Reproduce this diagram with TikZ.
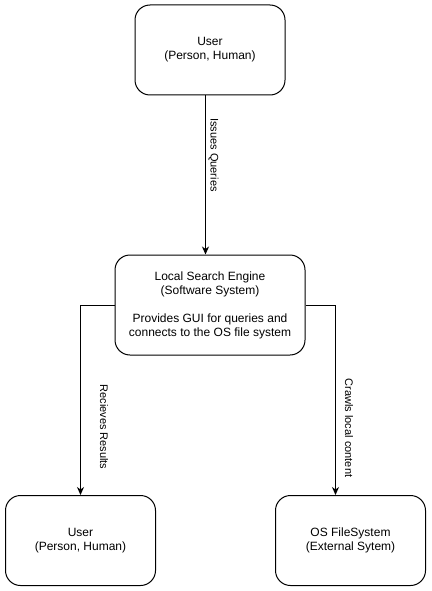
\documentclass[tikz,border=0pt]{standalone}
\usepackage{fontspec}
\setmainfont{Liberation Sans}
\usetikzlibrary{arrows.meta}
\begin{document}
\begin{tikzpicture}[x=1pt,y=-1pt,
  box/.style={draw=black, line width=1pt, rounded corners=15pt, minimum width=150pt, minimum height=90pt, align=center, font=\fontsize{12}{14}\selectfont, inner sep=0pt},
  conn/.style={draw=black, line width=1pt, -{Stealth[length=8pt,width=7pt,inset=2.5pt]}},
  lbl/.style={font=\fontsize{11}{13}\selectfont, rotate=-90, inner sep=0pt}]
\useasboundingbox[fill=white] (0,0) rectangle (431,591);
\node[box] (user1) at (210,50) {User\\(Person, Human)};
\node[box, minimum width=190pt, minimum height=100pt] (engine) at (210,305) {Local Search Engine\\(Software System)\\[14pt]Provides GUI for queries and\\connects to the OS file system};
\node[box] (user2) at (80.5,540.5) {User\\(Person, Human)};
\node[box] (fs) at (350.5,540.5) {OS FileSystem\\(External Sytem)};
\coordinate (t1) at (205.5,0);
\coordinate (t3) at (335.5,0);
\draw[conn] (user1.south -| t1) -- (engine.north -| t1);
\draw[conn] (engine.west) -| (user2.north);
\draw[conn] (engine.east) -| (fs.north -| t3);
\node[lbl] (l1) at (213.5,155) {Issues Queries};
\node[lbl] (l2) at (104,427) {Recieves Results};
\node[lbl] (l3) at (349,428) {Crawls local content};
\end{tikzpicture}
\end{document}
